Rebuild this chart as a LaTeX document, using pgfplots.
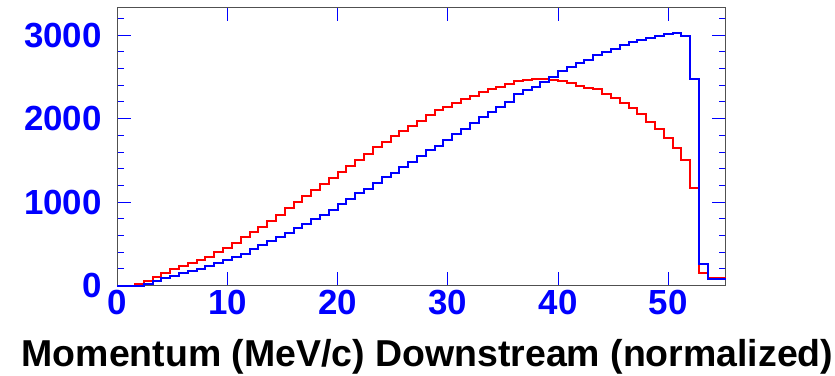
\documentclass[border=0pt]{standalone}
\usepackage{pgfplots}
\usepackage{pgfplotstable}
\pgfplotsset{compat=1.18}
\usepackage{fontspec}
\setmainfont{Liberation Sans}
\definecolor{rblue}{RGB}{0,0,255}
\definecolor{rred}{RGB}{255,0,0}
\definecolor{frame}{RGB}{80,80,80}
\pgfplotstableread{
x red blue
0 0 0
0.8 0 0
1.6 17 0
2.4 60 25
3.2 105 55
4.0 150 90
4.8 195 120
5.6 240 150
6.4 275 175
7.2 307 205
8.0 347 236
8.8 407 268
9.6 455 307
10.4 515 340
11.2 579 379
12.0 646 439
12.8 706 487
13.6 778 539
14.4 846 586
15.2 926 627
16.0 1005 687
16.8 1073 738
17.6 1145 794
18.4 1217 846
19.2 1285 906
20.0 1364 978
20.8 1436 1034
21.6 1504 1106
22.4 1576 1157
23.2 1656 1225
24.0 1723 1297
24.8 1791 1352
25.6 1855 1424
26.4 1915 1477
27.2 1975 1552
28.0 2043 1624
28.8 2104 1678
29.6 2144 1744
30.4 2192 1811
31.2 2232 1871
32.0 2272 1943
32.8 2320 2015
33.6 2350 2082
34.4 2384 2142
35.2 2412 2202
36.0 2449 2298
36.8 2461 2342
37.6 2470 2382
38.4 2477 2441
39.2 2461 2501
40.0 2446 2573
40.8 2422 2621
41.6 2394 2661
42.4 2370 2701
43.2 2352 2761
44.0 2296 2801
44.8 2252 2833
45.6 2192 2881
46.4 2132 2920
47.2 2056 2940
48.0 1957 2960
48.8 1873 2992
49.6 1765 3008
50.4 1645 3030
51.2 1505 2992
52.0 1174 2470
52.8 156 256
53.6 88 77
54.4 88 77
55.2 88 77
}\histdata
\begin{document}
\begin{tikzpicture}
\begin{axis}[
  at={(0,0)}, anchor=south west,
  width=608.2bp, height=278.2bp, scale only axis,
  xmin=0, xmax=55.2, ymin=0, ymax=3330,
  clip=false,
  axis line style={draw=frame, line width=1.2bp},
  xtick={0,10,20,30,40,50},
  ytick={0,1000,2000,3000},
  minor ytick={200,400,600,800,1200,1400,1600,1800,2200,2400,2600,2800,3200},
  tick align=inside,
  major tick length=14bp,
  minor tick length=7bp,
  every tick/.style={draw=rblue, line width=1bp},
  /pgf/number format/assume math mode=true,
  /pgf/number format/1000 sep={},
  ticklabel style={font=\fontsize{35}{36}\selectfont\bfseries, text=rblue},
  yticklabel style={xshift=-12bp},
  xticklabel style={yshift=-1bp},
]
\addplot[const plot mark left, draw=rred, line width=2bp] table[x=x, y=red] {\histdata};
\addplot[const plot mark left, draw=rblue, line width=2bp] table[x=x, y=blue] {\histdata};
\node[anchor=base, font=\fontsize{37.6}{40}\selectfont\bfseries, text=black, inner sep=0pt]
  at (axis description cs:0.51,0) [yshift=-81bp] {Momentum (MeV/c) Downstream (normalized)};
\end{axis}
\pgfresetboundingbox
\path (-117.3bp,-90.3bp) rectangle (717.7bp,285.7bp);
\end{tikzpicture}
\end{document}
